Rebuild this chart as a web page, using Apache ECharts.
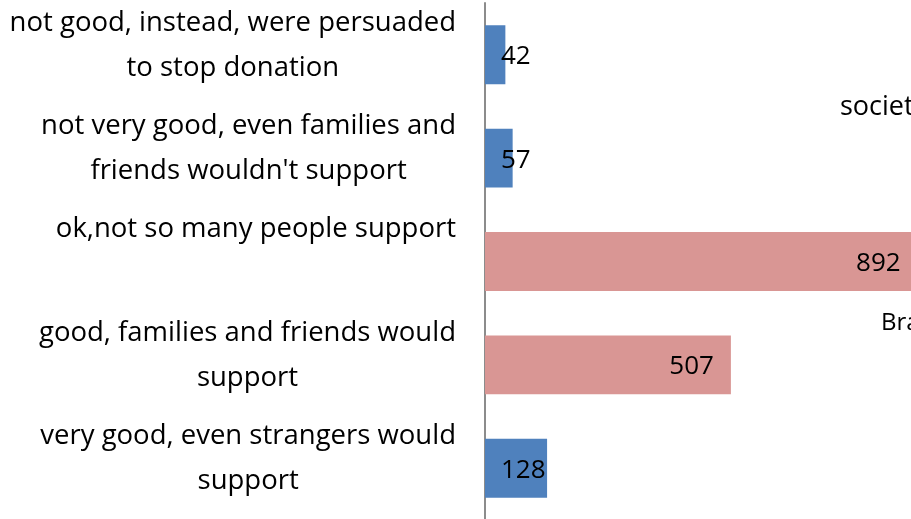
<!DOCTYPE html>
<html>
<head>
<meta charset="utf-8">
<style>
  html, body { margin: 0; padding: 0; background: #ffffff; }
  #chart { width: 911px; height: 519px; }
</style>
<script src="https://cdn.jsdelivr.net/npm/echarts@6/dist/echarts.min.js"></script>
</head>
<body>
<div id="chart"></div>
<script>
// Answers, listed bottom to top as they appear on the category axis
const categories = [
  "very good, even strangers would\nsupport",
  "good, families and friends would\nsupport",
  "ok,not so many people support",
  "not very good, even families and\nfriends wouldn't support",
  "not good, instead, were persuaded\nto stop donation"
];
const counts = [128, 507, 892, 57, 42];
const highlighted = [false, true, true, false, false];

const BLUE = "#4F81BD";
const PINK = "#D99694";
const FONT = "'Open Sans', 'Noto Sans', sans-serif";
const LABEL_SIZE = 27.5;
const LINE_H = 45;

const barData = counts.map((v, i) => ({
  value: v,
  itemStyle: { color: highlighted[i] ? PINK : BLUE },
  label: highlighted[i]
    ? { position: "insideRight", distance: 17 }
    : { position: "insideLeft", distance: 16 }
}));

const chart = echarts.init(document.getElementById("chart"), null, { renderer: "canvas" });
chart.setOption({
  animation: false,
  backgroundColor: "#ffffff",
  grid: {
    left: 485, top: 3, width: 485, height: 517,
    containLabel: false,
    outerBoundsMode: "none"
  },
  xAxis: {
    type: "value",
    min: 0,
    max: 1000,
    show: false
  },
  yAxis: {
    type: "category",
    data: categories,
    axisLine: { show: true, lineStyle: { color: "#8c8c8c", width: 2 } },
    axisTick: { show: false },
    axisLabel: {
      interval: 0,
      hideOverlap: false,
      color: "#000000",
      fontFamily: FONT,
      fontSize: LABEL_SIZE,
      lineHeight: LINE_H,
      margin: 29,
      align: "right",
      // each line is centred inside the block; a blank spacer line lifts the block
      formatter: function (v) {
        const lines = v.split("\n");
        const body = lines.map(function (s) { return "{t|" + s + "}"; }).join("\n");
        return body + "\n{" + (lines.length === 1 ? "g1" : "g2") + "| }";
      },
      rich: {
        t: { align: "center", fontSize: LABEL_SIZE, fontFamily: FONT, lineHeight: LINE_H, color: "#000000" },
        g1: { height: 64, lineHeight: 64, fontSize: 10 },
        g2: { height: 19, lineHeight: 19, fontSize: 10 }
      }
    }
  },
  series: [{
    type: "bar",
    data: barData,
    clip: false,
    barCategoryGap: "43%",
    label: {
      show: true,
      color: "#000000",
      fontFamily: FONT,
      fontSize: 26,
      offset: [0, 2]
    }
  }],
  graphic: [
    { type: "text", left: 840, top: 94, style: { text: "society", fill: "#000000", font: "27px " + FONT } },
    { type: "text", left: 881, top: 311, style: { text: "Brand", fill: "#000000", font: "24px " + FONT } }
  ]
});
</script>
</body>
</html>
